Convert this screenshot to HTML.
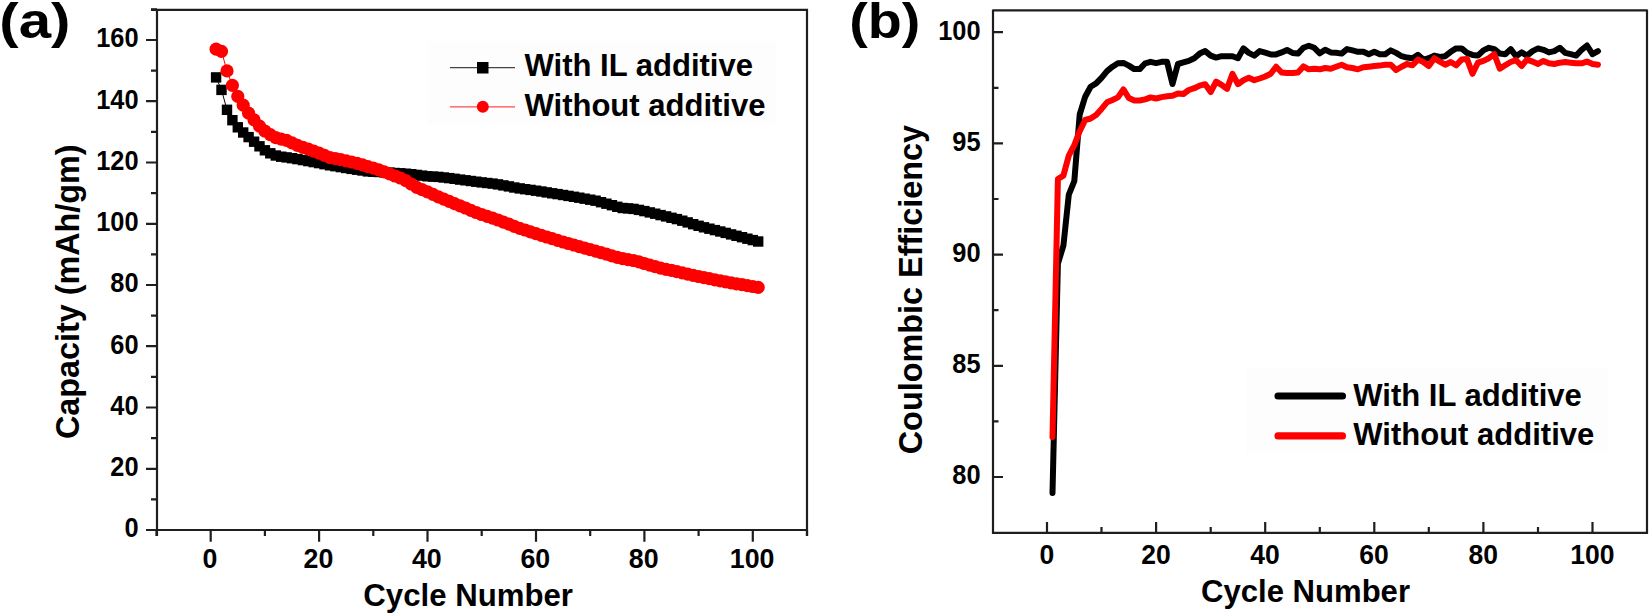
<!DOCTYPE html>
<html lang="en"><head><meta charset="utf-8"><title>Cycling performance with and without IL additive</title>
<style>html,body{margin:0;padding:0;background:#fff}body{width:1650px;height:614px;overflow:hidden}svg{display:block}text{font-family:'Liberation Sans', Arial, Helvetica, sans-serif;font-weight:bold;fill:#000}.tk{font-size:27.6px}.tt{font-size:31px}.pl{font-size:50.6px}</style></head><body>
<svg width="1650" height="614" viewBox="0 0 1650 614">
<rect width="1650" height="614" fill="#fff"/>
<g id="panel-a">
<g stroke="#1e1e1e" stroke-width="2.2" fill="none" stroke-linecap="butt">
<path d="M157.0 8.8V536.0M151.0 9.8H808.0M807.0 8.8V536.0M146.0 530.0H807.0"/>
<path d="M146.0 530.0H157.0M146.0 468.8H157.0M146.0 407.5H157.0M146.0 346.2H157.0M146.0 285.0H157.0M146.0 223.8H157.0M146.0 162.5H157.0M146.0 101.2H157.0M146.0 40.0H157.0M151.0 499.4H157.0M151.0 438.1H157.0M151.0 376.9H157.0M151.0 315.6H157.0M151.0 254.4H157.0M151.0 193.1H157.0M151.0 131.9H157.0M151.0 70.6H157.0M151.0 9.4H157.0M210.7 530.0V541.8M319.1 530.0V541.8M427.5 530.0V541.8M536.0 530.0V541.8M644.4 530.0V541.8M752.8 530.0V541.8M156.5 530.0V536.0M264.9 530.0V536.0M373.3 530.0V536.0M481.7 530.0V536.0M590.2 530.0V536.0M698.6 530.0V536.0M807.0 530.0V536.0"/>
</g>
<text class="tk" transform="translate(138.6 537.4) scale(0.92 1)" text-anchor="end">0</text>
<text class="tk" transform="translate(138.6 476.1) scale(0.92 1)" text-anchor="end">20</text>
<text class="tk" transform="translate(138.6 414.9) scale(0.92 1)" text-anchor="end">40</text>
<text class="tk" transform="translate(138.6 353.6) scale(0.92 1)" text-anchor="end">60</text>
<text class="tk" transform="translate(138.6 292.4) scale(0.92 1)" text-anchor="end">80</text>
<text class="tk" transform="translate(138.6 231.2) scale(0.92 1)" text-anchor="end">100</text>
<text class="tk" transform="translate(138.6 169.9) scale(0.92 1)" text-anchor="end">120</text>
<text class="tk" transform="translate(138.6 108.7) scale(0.92 1)" text-anchor="end">140</text>
<text class="tk" transform="translate(138.6 47.4) scale(0.92 1)" text-anchor="end">160</text>
<text class="tk" transform="translate(210.0 567.5) scale(0.97 1)" text-anchor="middle">0</text>
<text class="tk" transform="translate(318.4 567.5) scale(0.97 1)" text-anchor="middle">20</text>
<text class="tk" transform="translate(426.8 567.5) scale(0.97 1)" text-anchor="middle">40</text>
<text class="tk" transform="translate(535.3 567.5) scale(0.97 1)" text-anchor="middle">60</text>
<text class="tk" transform="translate(643.7 567.5) scale(0.97 1)" text-anchor="middle">80</text>
<text class="tk" transform="translate(752.1 567.5) scale(0.97 1)" text-anchor="middle">100</text>
<text class="tt" style="font-size:31.5px" x="363.3" y="606.1" textLength="209.6" lengthAdjust="spacingAndGlyphs">Cycle Number</text>
<text class="tt" style="font-size:33px" transform="translate(78.5 439) rotate(-90)" textLength="294.5" lengthAdjust="spacingAndGlyphs">Capacity (mAh/gm)</text>
<text class="pl" transform="translate(-0.7 37.8) scale(1.15 1)">(a)</text>
<polyline points="216.1,77.4 221.5,89.9 227.0,109.8 232.4,120.2 237.8,127.3 243.2,132.5 248.6,137.1 254.1,141.7 259.5,146.3 264.9,150.2 270.3,153.3 275.8,155.5 281.2,156.7 286.6,157.4 292.0,158.2 297.4,159.1 302.9,160.1 308.3,161.1 313.7,162.1 319.1,163.1 324.5,164.2 330.0,165.3 335.4,166.2 340.8,167.1 346.2,168.0 351.6,168.9 357.1,169.7 362.5,170.5 367.9,171.4 373.3,171.7 378.8,172.0 384.2,172.3 389.6,172.6 395.0,173.0 400.4,173.3 405.9,173.7 411.3,174.2 416.7,174.9 422.1,175.6 427.5,176.3 433.0,176.6 438.4,176.9 443.8,177.5 449.2,178.1 454.6,178.8 460.1,179.6 465.5,180.3 470.9,181.0 476.3,181.7 481.7,182.4 487.2,183.0 492.6,183.6 498.0,184.4 503.4,185.4 508.9,186.4 514.3,187.5 519.7,188.4 525.1,189.2 530.5,189.9 536.0,190.7 541.4,191.5 546.8,192.4 552.2,193.3 557.6,194.1 563.1,195.0 568.5,195.9 573.9,196.8 579.3,197.7 584.7,198.7 590.2,199.7 595.6,200.7 601.0,202.2 606.4,203.7 611.9,205.2 617.3,206.8 622.7,208.0 628.1,208.4 633.5,208.9 639.0,209.9 644.4,211.1 649.8,212.4 655.2,213.7 660.6,215.1 666.1,216.4 671.5,217.8 676.9,219.1 682.3,220.7 687.7,222.4 693.2,224.2 698.6,225.8 704.0,227.3 709.4,228.7 714.9,230.1 720.3,231.5 725.7,232.9 731.1,234.4 736.5,235.8 742.0,237.2 747.4,238.7 752.8,240.1 758.2,241.5" fill="none" stroke="#000" stroke-width="1"/>
<g fill="#000">
<rect x="210.9" y="72.2" width="10.4" height="10.4"/>
<rect x="216.3" y="84.7" width="10.4" height="10.4"/>
<rect x="221.8" y="104.6" width="10.4" height="10.4"/>
<rect x="227.2" y="115.0" width="10.4" height="10.4"/>
<rect x="232.6" y="122.1" width="10.4" height="10.4"/>
<rect x="238.0" y="127.3" width="10.4" height="10.4"/>
<rect x="243.4" y="131.9" width="10.4" height="10.4"/>
<rect x="248.9" y="136.5" width="10.4" height="10.4"/>
<rect x="254.3" y="141.1" width="10.4" height="10.4"/>
<rect x="259.7" y="145.1" width="10.4" height="10.4"/>
<rect x="265.1" y="148.1" width="10.4" height="10.4"/>
<rect x="270.6" y="150.3" width="10.4" height="10.4"/>
<rect x="276.0" y="151.5" width="10.4" height="10.4"/>
<rect x="281.4" y="152.2" width="10.4" height="10.4"/>
<rect x="286.8" y="153.0" width="10.4" height="10.4"/>
<rect x="292.2" y="153.9" width="10.4" height="10.4"/>
<rect x="297.7" y="154.9" width="10.4" height="10.4"/>
<rect x="303.1" y="155.9" width="10.4" height="10.4"/>
<rect x="308.5" y="156.9" width="10.4" height="10.4"/>
<rect x="313.9" y="157.9" width="10.4" height="10.4"/>
<rect x="319.3" y="159.0" width="10.4" height="10.4"/>
<rect x="324.8" y="160.1" width="10.4" height="10.4"/>
<rect x="330.2" y="161.0" width="10.4" height="10.4"/>
<rect x="335.6" y="161.9" width="10.4" height="10.4"/>
<rect x="341.0" y="162.8" width="10.4" height="10.4"/>
<rect x="346.4" y="163.7" width="10.4" height="10.4"/>
<rect x="351.9" y="164.5" width="10.4" height="10.4"/>
<rect x="357.3" y="165.3" width="10.4" height="10.4"/>
<rect x="362.7" y="166.2" width="10.4" height="10.4"/>
<rect x="368.1" y="166.5" width="10.4" height="10.4"/>
<rect x="373.6" y="166.8" width="10.4" height="10.4"/>
<rect x="379.0" y="167.1" width="10.4" height="10.4"/>
<rect x="384.4" y="167.4" width="10.4" height="10.4"/>
<rect x="389.8" y="167.8" width="10.4" height="10.4"/>
<rect x="395.2" y="168.1" width="10.4" height="10.4"/>
<rect x="400.7" y="168.5" width="10.4" height="10.4"/>
<rect x="406.1" y="169.0" width="10.4" height="10.4"/>
<rect x="411.5" y="169.7" width="10.4" height="10.4"/>
<rect x="416.9" y="170.4" width="10.4" height="10.4"/>
<rect x="422.3" y="171.1" width="10.4" height="10.4"/>
<rect x="427.8" y="171.4" width="10.4" height="10.4"/>
<rect x="433.2" y="171.7" width="10.4" height="10.4"/>
<rect x="438.6" y="172.3" width="10.4" height="10.4"/>
<rect x="444.0" y="172.9" width="10.4" height="10.4"/>
<rect x="449.4" y="173.6" width="10.4" height="10.4"/>
<rect x="454.9" y="174.4" width="10.4" height="10.4"/>
<rect x="460.3" y="175.1" width="10.4" height="10.4"/>
<rect x="465.7" y="175.8" width="10.4" height="10.4"/>
<rect x="471.1" y="176.5" width="10.4" height="10.4"/>
<rect x="476.5" y="177.2" width="10.4" height="10.4"/>
<rect x="482.0" y="177.8" width="10.4" height="10.4"/>
<rect x="487.4" y="178.4" width="10.4" height="10.4"/>
<rect x="492.8" y="179.2" width="10.4" height="10.4"/>
<rect x="498.2" y="180.2" width="10.4" height="10.4"/>
<rect x="503.7" y="181.2" width="10.4" height="10.4"/>
<rect x="509.1" y="182.3" width="10.4" height="10.4"/>
<rect x="514.5" y="183.2" width="10.4" height="10.4"/>
<rect x="519.9" y="184.0" width="10.4" height="10.4"/>
<rect x="525.3" y="184.7" width="10.4" height="10.4"/>
<rect x="530.8" y="185.5" width="10.4" height="10.4"/>
<rect x="536.2" y="186.3" width="10.4" height="10.4"/>
<rect x="541.6" y="187.2" width="10.4" height="10.4"/>
<rect x="547.0" y="188.1" width="10.4" height="10.4"/>
<rect x="552.4" y="188.9" width="10.4" height="10.4"/>
<rect x="557.9" y="189.8" width="10.4" height="10.4"/>
<rect x="563.3" y="190.7" width="10.4" height="10.4"/>
<rect x="568.7" y="191.6" width="10.4" height="10.4"/>
<rect x="574.1" y="192.5" width="10.4" height="10.4"/>
<rect x="579.5" y="193.5" width="10.4" height="10.4"/>
<rect x="585.0" y="194.5" width="10.4" height="10.4"/>
<rect x="590.4" y="195.5" width="10.4" height="10.4"/>
<rect x="595.8" y="197.0" width="10.4" height="10.4"/>
<rect x="601.2" y="198.5" width="10.4" height="10.4"/>
<rect x="606.7" y="200.0" width="10.4" height="10.4"/>
<rect x="612.1" y="201.6" width="10.4" height="10.4"/>
<rect x="617.5" y="202.8" width="10.4" height="10.4"/>
<rect x="622.9" y="203.2" width="10.4" height="10.4"/>
<rect x="628.3" y="203.7" width="10.4" height="10.4"/>
<rect x="633.8" y="204.7" width="10.4" height="10.4"/>
<rect x="639.2" y="205.9" width="10.4" height="10.4"/>
<rect x="644.6" y="207.2" width="10.4" height="10.4"/>
<rect x="650.0" y="208.5" width="10.4" height="10.4"/>
<rect x="655.4" y="209.9" width="10.4" height="10.4"/>
<rect x="660.9" y="211.2" width="10.4" height="10.4"/>
<rect x="666.3" y="212.6" width="10.4" height="10.4"/>
<rect x="671.7" y="213.9" width="10.4" height="10.4"/>
<rect x="677.1" y="215.5" width="10.4" height="10.4"/>
<rect x="682.5" y="217.2" width="10.4" height="10.4"/>
<rect x="688.0" y="219.0" width="10.4" height="10.4"/>
<rect x="693.4" y="220.6" width="10.4" height="10.4"/>
<rect x="698.8" y="222.1" width="10.4" height="10.4"/>
<rect x="704.2" y="223.5" width="10.4" height="10.4"/>
<rect x="709.7" y="224.9" width="10.4" height="10.4"/>
<rect x="715.1" y="226.3" width="10.4" height="10.4"/>
<rect x="720.5" y="227.7" width="10.4" height="10.4"/>
<rect x="725.9" y="229.2" width="10.4" height="10.4"/>
<rect x="731.3" y="230.6" width="10.4" height="10.4"/>
<rect x="736.8" y="232.0" width="10.4" height="10.4"/>
<rect x="742.2" y="233.5" width="10.4" height="10.4"/>
<rect x="747.6" y="234.9" width="10.4" height="10.4"/>
<rect x="753.0" y="236.3" width="10.4" height="10.4"/>
</g>
<polyline points="216.1,49.2 221.5,51.3 227.0,70.9 232.4,85.3 237.8,96.4 243.2,105.2 248.6,113.2 254.1,119.9 259.5,126.1 264.9,131.0 270.3,134.6 275.8,137.7 281.2,139.2 286.6,140.4 292.0,142.9 297.4,145.4 302.9,147.3 308.3,149.2 313.7,151.1 319.1,153.1 324.5,155.3 330.0,157.6 335.4,158.5 340.8,159.7 346.2,160.8 351.6,162.0 357.1,163.3 362.5,164.9 367.9,166.6 373.3,168.2 378.8,169.9 384.2,171.9 389.6,173.9 395.0,176.0 400.4,178.0 405.9,180.7 411.3,184.0 416.7,187.3 422.1,189.7 427.5,191.9 433.0,194.4 438.4,196.8 443.8,199.1 449.2,201.3 454.6,203.6 460.1,205.8 465.5,208.0 470.9,210.3 476.3,212.5 481.7,214.5 487.2,216.3 492.6,218.1 498.0,220.0 503.4,222.1 508.9,224.2 514.3,226.3 519.7,228.3 525.1,230.0 530.5,231.8 536.0,233.6 541.4,235.3 546.8,237.0 552.2,238.7 557.6,240.4 563.1,242.0 568.5,243.5 573.9,245.0 579.3,246.6 584.7,248.1 590.2,249.6 595.6,251.2 601.0,252.7 606.4,254.2 611.9,255.8 617.3,257.3 622.7,258.6 628.1,259.6 633.5,260.5 639.0,261.9 644.4,263.5 649.8,265.1 655.2,266.7 660.6,268.1 666.1,269.3 671.5,270.4 676.9,271.6 682.3,272.8 687.7,274.1 693.2,275.3 698.6,276.5 704.0,277.6 709.4,278.7 714.9,279.8 720.3,280.9 725.7,281.9 731.1,282.9 736.5,283.8 742.0,284.7 747.4,285.6 752.8,286.5 758.2,287.4" fill="none" stroke="#ff0000" stroke-width="1"/>
<g fill="#ff0000">
<circle cx="216.1" cy="49.2" r="6.6"/>
<circle cx="221.5" cy="51.3" r="6.6"/>
<circle cx="227.0" cy="70.9" r="6.6"/>
<circle cx="232.4" cy="85.3" r="6.6"/>
<circle cx="237.8" cy="96.4" r="6.6"/>
<circle cx="243.2" cy="105.2" r="6.6"/>
<circle cx="248.6" cy="113.2" r="6.6"/>
<circle cx="254.1" cy="119.9" r="6.6"/>
<circle cx="259.5" cy="126.1" r="6.6"/>
<circle cx="264.9" cy="131.0" r="6.6"/>
<circle cx="270.3" cy="134.6" r="6.6"/>
<circle cx="275.8" cy="137.7" r="6.6"/>
<circle cx="281.2" cy="139.2" r="6.6"/>
<circle cx="286.6" cy="140.4" r="6.6"/>
<circle cx="292.0" cy="142.9" r="6.6"/>
<circle cx="297.4" cy="145.4" r="6.6"/>
<circle cx="302.9" cy="147.3" r="6.6"/>
<circle cx="308.3" cy="149.2" r="6.6"/>
<circle cx="313.7" cy="151.1" r="6.6"/>
<circle cx="319.1" cy="153.1" r="6.6"/>
<circle cx="324.5" cy="155.3" r="6.6"/>
<circle cx="330.0" cy="157.6" r="6.6"/>
<circle cx="335.4" cy="158.5" r="6.6"/>
<circle cx="340.8" cy="159.7" r="6.6"/>
<circle cx="346.2" cy="160.8" r="6.6"/>
<circle cx="351.6" cy="162.0" r="6.6"/>
<circle cx="357.1" cy="163.3" r="6.6"/>
<circle cx="362.5" cy="164.9" r="6.6"/>
<circle cx="367.9" cy="166.6" r="6.6"/>
<circle cx="373.3" cy="168.2" r="6.6"/>
<circle cx="378.8" cy="169.9" r="6.6"/>
<circle cx="384.2" cy="171.9" r="6.6"/>
<circle cx="389.6" cy="173.9" r="6.6"/>
<circle cx="395.0" cy="176.0" r="6.6"/>
<circle cx="400.4" cy="178.0" r="6.6"/>
<circle cx="405.9" cy="180.7" r="6.6"/>
<circle cx="411.3" cy="184.0" r="6.6"/>
<circle cx="416.7" cy="187.3" r="6.6"/>
<circle cx="422.1" cy="189.7" r="6.6"/>
<circle cx="427.5" cy="191.9" r="6.6"/>
<circle cx="433.0" cy="194.4" r="6.6"/>
<circle cx="438.4" cy="196.8" r="6.6"/>
<circle cx="443.8" cy="199.1" r="6.6"/>
<circle cx="449.2" cy="201.3" r="6.6"/>
<circle cx="454.6" cy="203.6" r="6.6"/>
<circle cx="460.1" cy="205.8" r="6.6"/>
<circle cx="465.5" cy="208.0" r="6.6"/>
<circle cx="470.9" cy="210.3" r="6.6"/>
<circle cx="476.3" cy="212.5" r="6.6"/>
<circle cx="481.7" cy="214.5" r="6.6"/>
<circle cx="487.2" cy="216.3" r="6.6"/>
<circle cx="492.6" cy="218.1" r="6.6"/>
<circle cx="498.0" cy="220.0" r="6.6"/>
<circle cx="503.4" cy="222.1" r="6.6"/>
<circle cx="508.9" cy="224.2" r="6.6"/>
<circle cx="514.3" cy="226.3" r="6.6"/>
<circle cx="519.7" cy="228.3" r="6.6"/>
<circle cx="525.1" cy="230.0" r="6.6"/>
<circle cx="530.5" cy="231.8" r="6.6"/>
<circle cx="536.0" cy="233.6" r="6.6"/>
<circle cx="541.4" cy="235.3" r="6.6"/>
<circle cx="546.8" cy="237.0" r="6.6"/>
<circle cx="552.2" cy="238.7" r="6.6"/>
<circle cx="557.6" cy="240.4" r="6.6"/>
<circle cx="563.1" cy="242.0" r="6.6"/>
<circle cx="568.5" cy="243.5" r="6.6"/>
<circle cx="573.9" cy="245.0" r="6.6"/>
<circle cx="579.3" cy="246.6" r="6.6"/>
<circle cx="584.7" cy="248.1" r="6.6"/>
<circle cx="590.2" cy="249.6" r="6.6"/>
<circle cx="595.6" cy="251.2" r="6.6"/>
<circle cx="601.0" cy="252.7" r="6.6"/>
<circle cx="606.4" cy="254.2" r="6.6"/>
<circle cx="611.9" cy="255.8" r="6.6"/>
<circle cx="617.3" cy="257.3" r="6.6"/>
<circle cx="622.7" cy="258.6" r="6.6"/>
<circle cx="628.1" cy="259.6" r="6.6"/>
<circle cx="633.5" cy="260.5" r="6.6"/>
<circle cx="639.0" cy="261.9" r="6.6"/>
<circle cx="644.4" cy="263.5" r="6.6"/>
<circle cx="649.8" cy="265.1" r="6.6"/>
<circle cx="655.2" cy="266.7" r="6.6"/>
<circle cx="660.6" cy="268.1" r="6.6"/>
<circle cx="666.1" cy="269.3" r="6.6"/>
<circle cx="671.5" cy="270.4" r="6.6"/>
<circle cx="676.9" cy="271.6" r="6.6"/>
<circle cx="682.3" cy="272.8" r="6.6"/>
<circle cx="687.7" cy="274.1" r="6.6"/>
<circle cx="693.2" cy="275.3" r="6.6"/>
<circle cx="698.6" cy="276.5" r="6.6"/>
<circle cx="704.0" cy="277.6" r="6.6"/>
<circle cx="709.4" cy="278.7" r="6.6"/>
<circle cx="714.9" cy="279.8" r="6.6"/>
<circle cx="720.3" cy="280.9" r="6.6"/>
<circle cx="725.7" cy="281.9" r="6.6"/>
<circle cx="731.1" cy="282.9" r="6.6"/>
<circle cx="736.5" cy="283.8" r="6.6"/>
<circle cx="742.0" cy="284.7" r="6.6"/>
<circle cx="747.4" cy="285.6" r="6.6"/>
<circle cx="752.8" cy="286.5" r="6.6"/>
<circle cx="758.2" cy="287.4" r="6.6"/>
</g>
<rect x="428" y="41" width="348" height="84.2" fill="#fdfdfd"/>
<path d="M450 67.7H515" stroke="#444" stroke-width="1.3"/><rect x="477" y="62" width="11.5" height="11.5" fill="#000"/>
<path d="M450 106.8H515" stroke="#ff4a4a" stroke-width="1.3"/><circle cx="482.8" cy="106.8" r="6" fill="#ff0000"/>
<text class="tt" x="524.5" y="76.3" textLength="228.5" lengthAdjust="spacingAndGlyphs">With IL additive</text>
<text class="tt" x="524.5" y="116.2" textLength="241" lengthAdjust="spacingAndGlyphs">Without additive</text>
</g>
<g id="panel-b">
<g stroke="#1e1e1e" stroke-width="2.2" fill="none">
<path d="M993.0 9.4V533.9M993.0 10.4H1647.0M1647.0 9.4V533.9M993.0 532.9H1647.0"/>
<path d="M993.0 477.0H1003.0M993.0 365.8H1003.0M993.0 254.6H1003.0M993.0 143.4H1003.0M993.0 32.2H1003.0M993.0 421.4H998.5M993.0 310.2H998.5M993.0 199.0H998.5M993.0 87.8H998.5M1047.0 532.9V521.9M1156.1 532.9V521.9M1265.2 532.9V521.9M1374.3 532.9V521.9M1483.4 532.9V521.9M1592.5 532.9V521.9M1101.5 532.9V526.9M1210.7 532.9V526.9M1319.8 532.9V526.9M1428.8 532.9V526.9M1538.0 532.9V526.9"/>
</g>
<text class="tk" transform="translate(980.6 484.4) scale(0.92 1)" text-anchor="end">80</text>
<text class="tk" transform="translate(980.6 373.2) scale(0.92 1)" text-anchor="end">85</text>
<text class="tk" transform="translate(980.6 262.0) scale(0.92 1)" text-anchor="end">90</text>
<text class="tk" transform="translate(980.6 150.8) scale(0.92 1)" text-anchor="end">95</text>
<text class="tk" transform="translate(980.6 39.6) scale(0.92 1)" text-anchor="end">100</text>
<text class="tk" transform="translate(1046.8 564.0) scale(0.96 1)" text-anchor="middle">0</text>
<text class="tk" transform="translate(1155.9 564.0) scale(0.96 1)" text-anchor="middle">20</text>
<text class="tk" transform="translate(1265.0 564.0) scale(0.96 1)" text-anchor="middle">40</text>
<text class="tk" transform="translate(1374.1 564.0) scale(0.96 1)" text-anchor="middle">60</text>
<text class="tk" transform="translate(1483.2 564.0) scale(0.96 1)" text-anchor="middle">80</text>
<text class="tk" transform="translate(1592.3 564.0) scale(0.96 1)" text-anchor="middle">100</text>
<text class="tt" x="1201" y="602" textLength="209" lengthAdjust="spacingAndGlyphs">Cycle Number</text>
<text class="tt" style="font-size:33.3px" transform="translate(921.8 454.3) rotate(-90)" textLength="329.4" lengthAdjust="spacingAndGlyphs">Coulombic Efficiency</text>
<text class="pl" transform="translate(849.2 37.6) scale(1.10 1)">(b)</text>
<polyline points="1052.5,493.0 1057.9,263.5 1063.4,245.7 1068.8,194.6 1074.3,181.2 1079.7,114.5 1085.2,96.7 1090.6,86.7 1096.1,83.4 1101.5,77.8 1107.0,71.1 1112.5,66.7 1117.9,63.3 1123.4,62.9 1128.8,65.6 1134.3,69.1 1139.7,69.1 1145.2,63.3 1150.6,61.8 1156.1,63.1 1161.6,61.8 1167.0,61.8 1172.5,84.0 1177.9,64.0 1183.4,62.4 1188.8,60.9 1194.3,58.2 1199.7,53.6 1205.2,51.1 1210.7,55.6 1216.1,57.6 1221.6,56.2 1227.0,56.2 1232.5,56.2 1237.9,58.2 1243.4,48.4 1248.8,52.9 1254.3,55.6 1259.7,51.1 1265.2,52.7 1270.7,54.4 1276.1,54.4 1281.6,52.4 1287.0,50.0 1292.5,52.9 1297.9,53.6 1303.4,47.8 1308.8,45.8 1314.3,47.8 1319.8,53.3 1325.2,49.8 1330.7,52.4 1336.1,52.7 1341.6,53.6 1347.0,49.1 1352.5,50.4 1357.9,51.8 1363.4,51.8 1368.8,54.2 1374.3,51.8 1379.8,54.2 1385.2,54.2 1390.7,50.4 1396.1,52.9 1401.6,56.2 1407.0,57.6 1412.5,58.2 1417.9,54.9 1423.4,59.6 1428.8,58.2 1434.3,55.6 1439.8,56.9 1445.2,56.2 1450.7,51.8 1456.1,48.4 1461.6,48.4 1467.0,52.9 1472.5,54.9 1477.9,55.6 1483.4,50.4 1488.9,47.8 1494.3,49.1 1499.8,53.6 1505.2,54.2 1510.7,49.1 1516.1,56.2 1521.6,52.4 1527.0,55.6 1532.5,51.1 1538.0,48.4 1543.4,49.8 1548.9,52.4 1554.3,51.1 1559.8,47.8 1565.2,52.9 1570.7,54.2 1576.1,55.6 1581.6,49.8 1587.0,45.5 1592.5,54.2 1598.0,51.1" fill="none" stroke="#000" stroke-width="6" stroke-linejoin="round" stroke-linecap="round"/>
<polyline points="1052.5,437.0 1057.9,179.0 1063.4,175.6 1068.8,155.6 1074.3,145.2 1079.7,131.2 1085.2,120.0 1090.6,118.5 1096.1,114.9 1101.5,108.9 1107.0,102.3 1112.5,100.0 1117.9,97.4 1123.4,89.4 1128.8,98.0 1134.3,100.5 1139.7,100.5 1145.2,99.4 1150.6,97.4 1156.1,98.5 1161.6,97.1 1167.0,96.3 1172.5,95.8 1177.9,93.4 1183.4,94.0 1188.8,90.0 1194.3,88.2 1199.7,85.6 1205.2,84.2 1210.7,92.0 1216.1,81.6 1221.6,84.9 1227.0,88.9 1232.5,73.8 1237.9,84.2 1243.4,80.2 1248.8,77.8 1254.3,80.2 1259.7,78.5 1265.2,76.5 1270.7,73.8 1276.1,66.7 1281.6,72.5 1287.0,73.1 1292.5,73.1 1297.9,72.5 1303.4,66.4 1308.8,69.3 1314.3,68.7 1319.8,69.3 1325.2,68.0 1330.7,68.7 1336.1,66.7 1341.6,64.7 1347.0,67.3 1352.5,68.0 1357.9,69.3 1363.4,67.3 1368.8,66.7 1374.3,66.0 1379.8,65.6 1385.2,64.7 1390.7,64.7 1396.1,70.0 1401.6,66.7 1407.0,64.0 1412.5,65.3 1417.9,59.6 1423.4,62.0 1428.8,66.0 1434.3,58.2 1439.8,61.6 1445.2,64.7 1450.7,62.0 1456.1,65.3 1461.6,59.6 1467.0,58.9 1472.5,73.8 1477.9,62.7 1483.4,60.9 1488.9,58.2 1494.3,54.2 1499.8,68.7 1505.2,65.3 1510.7,62.0 1516.1,60.2 1521.6,66.0 1527.0,59.6 1532.5,61.6 1538.0,64.0 1543.4,60.9 1548.9,63.3 1554.3,64.0 1559.8,62.7 1565.2,62.0 1570.7,62.7 1576.1,63.3 1581.6,63.3 1587.0,61.6 1592.5,64.0 1598.0,64.7" fill="none" stroke="#ff0000" stroke-width="6" stroke-linejoin="round" stroke-linecap="round"/>
<rect x="1246" y="368.6" width="361.7" height="84.4" fill="#fdfdfd"/>
<path d="M1278 396H1342.5" stroke="#000" stroke-width="7.1" stroke-linecap="round"/>
<path d="M1278 435.9H1342.5" stroke="#ff0000" stroke-width="7.1" stroke-linecap="round"/>
<text class="tt" x="1353.3" y="405.8" textLength="228.5" lengthAdjust="spacingAndGlyphs">With IL additive</text>
<text class="tt" x="1353.3" y="444.7" textLength="241" lengthAdjust="spacingAndGlyphs">Without additive</text>
</g>
</svg></body></html>
